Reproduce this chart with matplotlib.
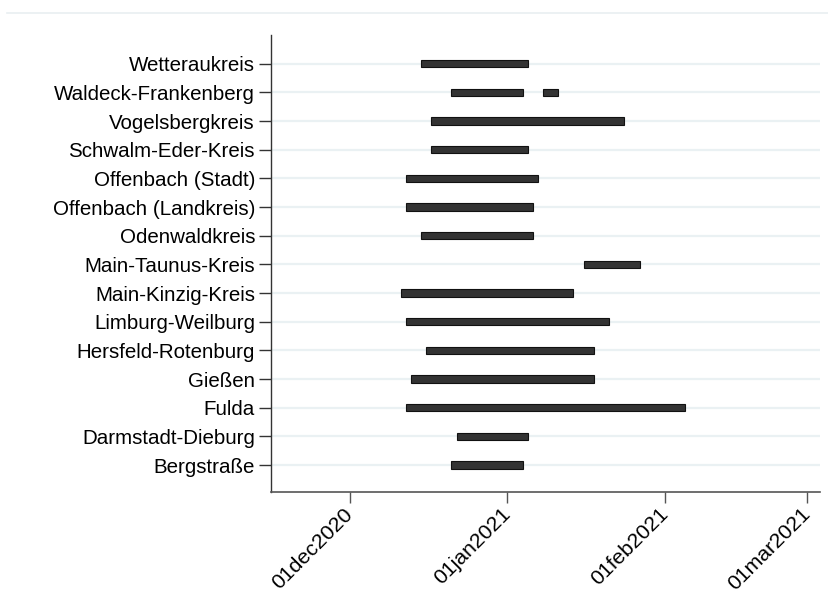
import matplotlib
matplotlib.use("Agg")
import matplotlib.pyplot as plt
import matplotlib.dates as mdates
from matplotlib.lines import Line2D
import datetime as dt

plt.rcParams['font.family'] = ['Liberation Sans', 'DejaVu Sans']

# Districts listed bottom to top
districts = ["Bergstraße", "Darmstadt-Dieburg", "Fulda", "Gießen", "Hersfeld-Rotenburg",
             "Limburg-Weilburg", "Main-Kinzig-Kreis", "Main-Taunus-Kreis", "Odenwaldkreis",
             "Offenbach (Landkreis)", "Offenbach (Stadt)", "Schwalm-Eder-Kreis",
             "Vogelsbergkreis", "Waldeck-Frankenberg", "Wetteraukreis"]

# Periods (start, end) per district; index into districts
period_idx = [0, 1, 2, 3, 4, 5, 6, 7, 8, 9, 10, 11, 12, 13, 13, 14]
period_start = ["2020-12-21", "2020-12-22", "2020-12-12", "2020-12-13", "2020-12-16",
                "2020-12-12", "2020-12-11", "2021-01-16", "2020-12-15", "2020-12-12",
                "2020-12-12", "2020-12-17", "2020-12-17", "2020-12-21", "2021-01-08",
                "2020-12-15"]
period_end = ["2021-01-04", "2021-01-05", "2021-02-05", "2021-01-18", "2021-01-18",
              "2021-01-21", "2021-01-14", "2021-01-27", "2021-01-06", "2021-01-06",
              "2021-01-07", "2021-01-05", "2021-01-24", "2021-01-04", "2021-01-11",
              "2021-01-05"]

tick_dates = ["2020-12-01", "2021-01-01", "2021-02-01", "2021-03-01"]
tick_labels = ["01dec2020", "01jan2021", "01feb2021", "01mar2021"]

def dnum(s):
    return mdates.date2num(dt.datetime.strptime(s, "%Y-%m-%d"))

W, H = 829, 609
fig = plt.figure(figsize=(W / 100, H / 100), dpi=100)
ax = fig.add_axes([271 / W, 1 - 492 / H, (820 - 271) / W, (492 - 35) / H])

ypos = [i + 1 for i in range(len(districts))]
for y in ypos:
    ax.axhline(y, color="#eaf1f3", lw=1.6, zorder=0)

starts = [dnum(s) for s in period_start]
ends = [dnum(e) for e in period_end]
ax.barh([ypos[i] for i in period_idx], [e - s for s, e in zip(starts, ends)],
        left=starts, height=0.26, color="#333333", edgecolor="#111111",
        linewidth=0.8, zorder=3)

d0 = dnum("2020-12-01")
ax.set_xlim(d0 - 15.5, d0 + 92.5)
ax.set_ylim(0.06, 16.0)

ax.set_yticks(ypos)
ax.set_yticklabels(districts, fontsize=14.8)
ax.set_xticks([dnum(t) for t in tick_dates])
ax.set_xticklabels(tick_labels, fontsize=15.3, rotation=45, ha="right",
                   va="center", rotation_mode="anchor")

for s in ["top", "right"]:
    ax.spines[s].set_visible(False)
ax.spines["left"].set_color("#333333")
ax.spines["bottom"].set_color("#555555")
ax.spines["left"].set_linewidth(1.0)
ax.spines["bottom"].set_linewidth(1.2)
ax.tick_params(axis="y", length=8.5, width=1.0, color="#333333", pad=3)
ax.tick_params(axis="x", length=8, width=1.0, color="#555555", pad=6)

fig.add_artist(Line2D([7 / W, 1.0], [1 - 13 / H, 1 - 13 / H],
                      color="#e9eff1", lw=1.2, transform=fig.transFigure))

fig.savefig("out.png", dpi=100, facecolor="white")
